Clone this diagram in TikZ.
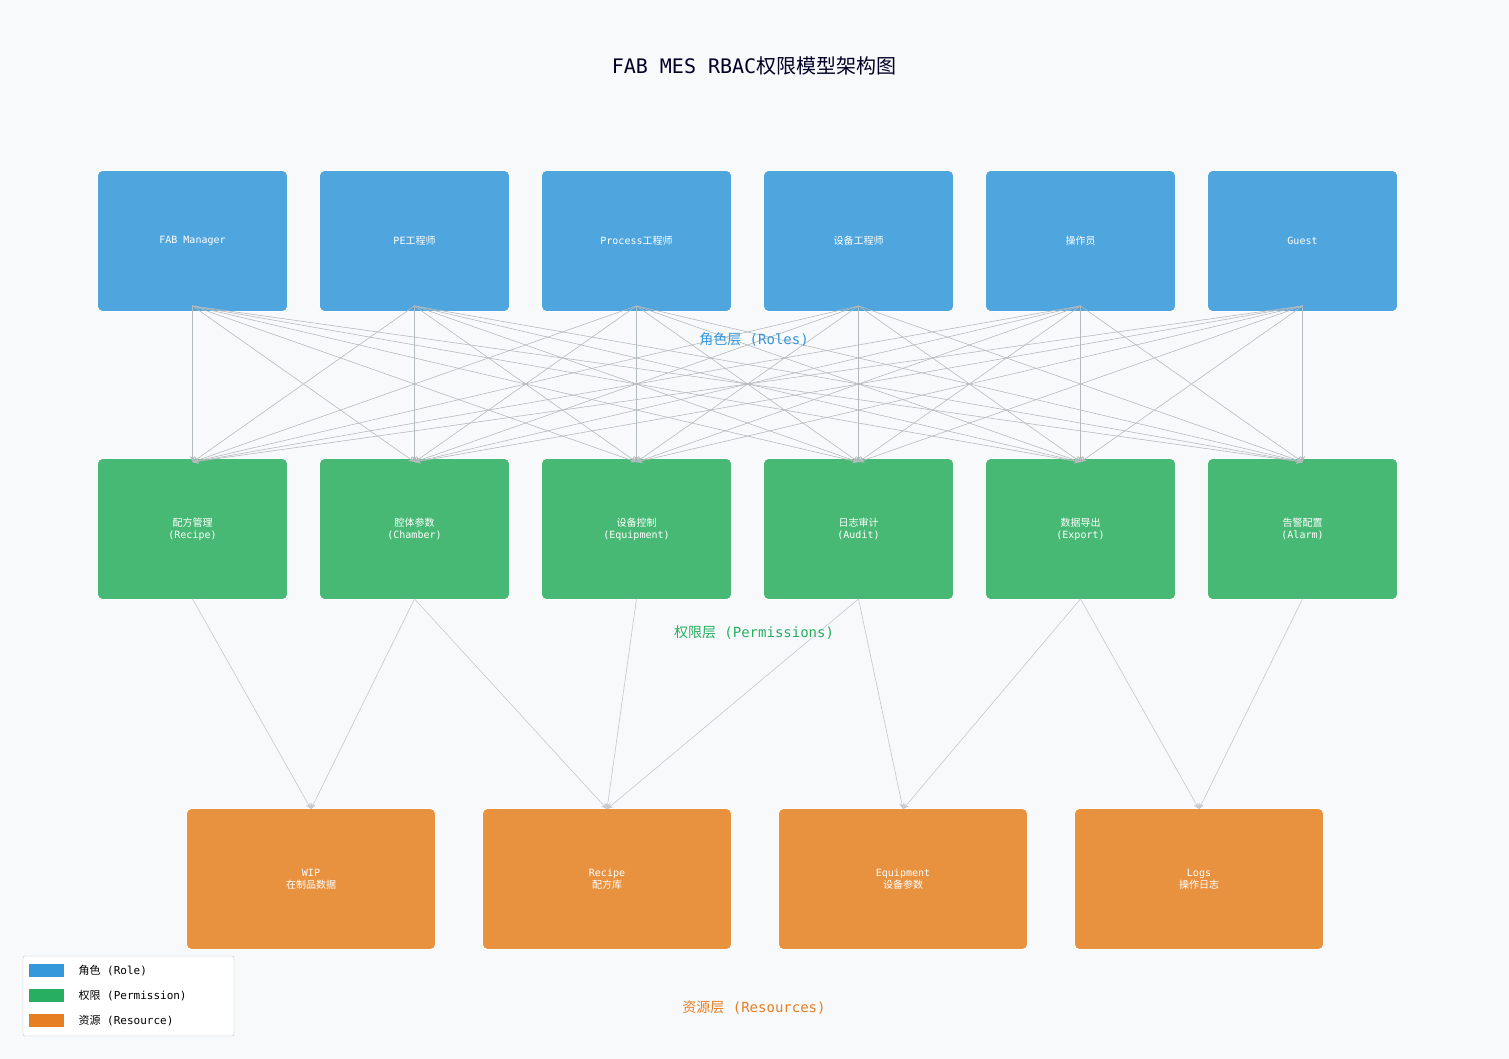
\documentclass[tikz,border=0pt]{standalone}
\usepackage{fontspec}
\setmainfont{DejaVu Sans Mono}
\newfontfamily\cjk{Noto Sans CJK SC}
\newcommand{\zh}[1]{{\cjk #1}}
\usetikzlibrary{arrows.meta}
\definecolor{bg}{HTML}{F8F9FA}
\definecolor{rolec}{HTML}{4FA5DE}
\definecolor{permc}{HTML}{48B975}
\definecolor{resc}{HTML}{E8923F}
\definecolor{rolet}{HTML}{3498DB}
\definecolor{permt}{HTML}{27AE60}
\definecolor{rest}{HTML}{E67E22}
\definecolor{lnk}{HTML}{B4BBBF}
\begin{document}
\begin{tikzpicture}[x=1pt,y=-1pt,
  box/.style={draw=white,line width=0.8pt,rounded corners=5pt,text=white,align=center,font=\fontsize{10}{12}\selectfont,inner sep=0pt},
  role/.style={box,fill=rolec,minimum width=190pt,minimum height=141pt},
  perm/.style={box,fill=permc,minimum width=190pt,minimum height=141pt},
  res/.style={box,fill=resc,minimum width=249pt,minimum height=141pt},
  lk/.style={draw=lnk,line width=0.6pt,-{Stealth[length=6pt,width=5pt]}},
  lk2/.style={draw=lnk!80,line width=0.6pt,-{Stealth[length=6pt,width=5pt]}}]
\fill[bg] (0,0) rectangle (1509,1059);
\useasboundingbox (0,0) rectangle (1509,1059);
\node[text=black!75!blue!60!black,font=\fontsize{20}{24}\selectfont] (title) at (754,66) {FAB MES RBAC\zh{权限模型架构图}};
% roles
\foreach \i/\t in {1/FAB Manager,2/PE\zh{工程师},3/Process\zh{工程师},4/\zh{设备工程师},5/\zh{操作员},6/Guest}{
  \node[role] (r\i) at ({192.5+222*(\i-1)},241) {\t};}
\foreach \i/\t in {1/\zh{配方管理}\\(Recipe),2/\zh{腔体参数}\\(Chamber),3/\zh{设备控制}\\(Equipment),4/\zh{日志审计}\\(Audit),5/\zh{数据导出}\\(Export),6/\zh{告警配置}\\(Alarm)}{
  \node[perm] (p\i) at ({192.5+222*(\i-1)},529) {\t};}
\foreach \i/\t in {1/WIP\\\zh{在制品数据},2/Recipe\\\zh{配方库},3/Equipment\\\zh{设备参数},4/Logs\\\zh{操作日志}}{
  \node[res] (s\i) at ({311+296*(\i-1)},879) {\t};}
% role -> permission links
\foreach \i in {1,...,6}{
  \coordinate (rb\i) at ([yshift=6pt]r\i.south);
  \coordinate (pt\i) at ([yshift=-4pt]p\i.north);}
\foreach \i in {1,...,6}{\foreach \j in {1,...,6}{
  \draw[lk] (rb\i) -- (pt\j);}}
% permission -> resource
\foreach \a/\b in {1/1,2/1,2/2,3/2,4/2,4/3,5/3,5/4,6/4}{
  \draw[lk2] ([yshift=1pt]p\a.south) -- ([yshift=-1pt]s\b.north);}
% layer labels
\node[text=rolet,font=\fontsize{14}{16}\selectfont] (l1) at (754,340) {\zh{角色层} (Roles)};
\node[text=permt,font=\fontsize{14}{16}\selectfont] (l2) at (754,633) {\zh{权限层} (Permissions)};
\node[text=rest,font=\fontsize{14}{16}\selectfont] (l3) at (754,1008) {\zh{资源层} (Resources)};
% legend
\draw[fill=white,draw=black!25,rounded corners=2pt] (23,956) rectangle (234,1036);
\fill[rolet] (29,964) rectangle (64,977);
\fill[permt] (29,989) rectangle (64,1002);
\fill[rest] (29,1014) rectangle (64,1027);
\node[anchor=west,font=\fontsize{11}{13}\selectfont] (g1) at (75,971) {\zh{角色} (Role)};
\node[anchor=west,font=\fontsize{11}{13}\selectfont] (g2) at (75,996) {\zh{权限} (Permission)};
\node[anchor=west,font=\fontsize{11}{13}\selectfont] (g3) at (75,1021) {\zh{资源} (Resource)};
\end{tikzpicture}
\end{document}
